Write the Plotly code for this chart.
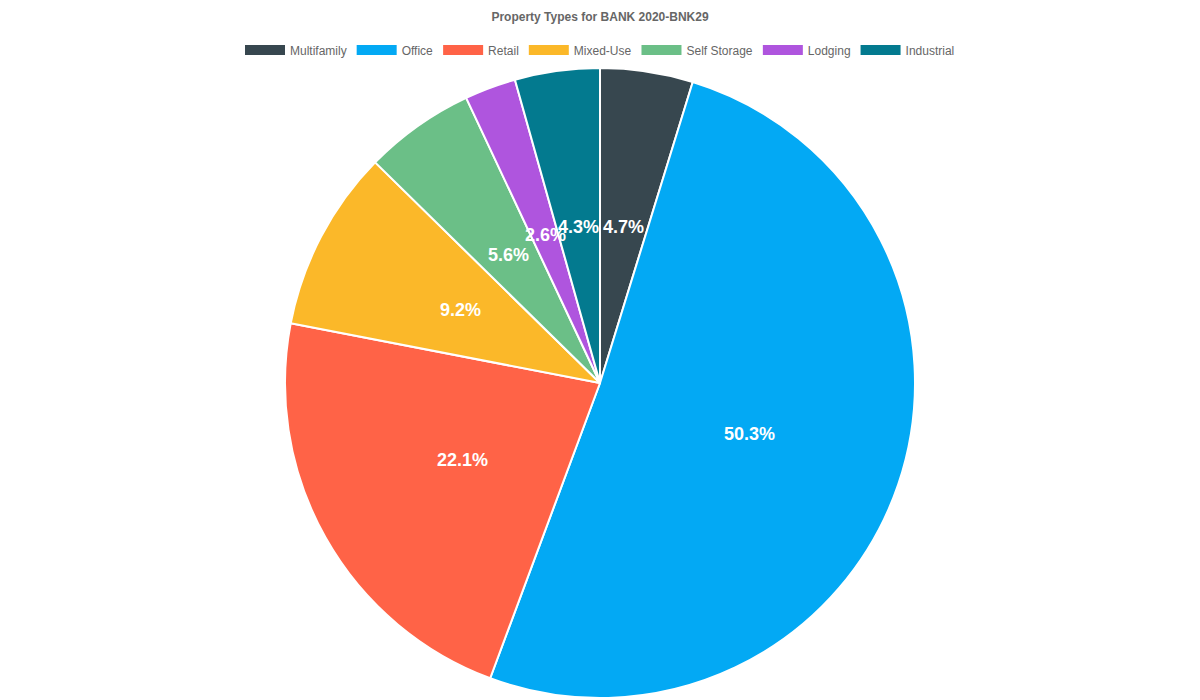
import math
import plotly.graph_objects as go

categories = ["Multifamily", "Office", "Retail", "Mixed-Use", "Self Storage", "Lodging", "Industrial"]
values = [4.7, 50.3, 22.1, 9.2, 5.6, 2.6, 4.3]
colors = ["#37474F", "#03A9F4", "#FF6347", "#FBB829", "#6BBF87", "#AF55DE", "#037A8F"]
title_text = "Property Types for BANK 2020-BNK29"

W, H = 1200, 700
M_T, M_B = 68, 2
plot_h = H - M_T - M_B
radius = plot_h / 2
cx, cy = W / 2, M_T + radius

fig = go.Figure()
fig.add_trace(go.Pie(
    labels=categories, values=values, sort=False, direction="clockwise", rotation=0,
    marker=dict(colors=colors, line=dict(color="white", width=2)),
    textinfo="none", hoverinfo="label+value", showlegend=False,
    domain=dict(x=[0, 1], y=[0, 1]),
))

# legend entries (wide colour boxes)
for name, col in zip(categories, colors):
    fig.add_trace(go.Scatter(x=[None], y=[None], mode="lines", name=name,
                             line=dict(color=col, width=10), showlegend=True))

# percentage labels at half radius, mid-angle of each slice
total = sum(values)
annotations = []
cum = 0.0
for v in values:
    mid = (cum + v / 2) / total * 2 * math.pi
    cum += v
    px = cx + 0.5 * radius * math.sin(mid)
    py = cy - 0.5 * radius * math.cos(mid)
    annotations.append(dict(
        x=px / W, y=(H - M_B - py) / plot_h, xref="paper", yref="paper",
        text=f"{v:.1f}%", showarrow=False,
        font=dict(family="Liberation Sans, Arial, sans-serif", size=18, color="white", weight="bold"),
        xanchor="center", yanchor="middle",
    ))

fig.update_layout(
    width=W, height=H,
    margin=dict(l=0, r=0, t=M_T, b=M_B),
    paper_bgcolor="white", plot_bgcolor="white",
    font=dict(family="Liberation Sans, Arial, sans-serif", size=12, color="#666666"),
    title=dict(text="<b>" + title_text + "</b>", x=0.5, xanchor="center",
               y=1 - 17 / H, yanchor="middle", yref="container",
               font=dict(size=12, color="#666666")),
    legend=dict(orientation="h", x=0.5, xanchor="center", y=1 - 50 / H, yanchor="middle",
                yref="container", font=dict(size=12, color="#666666"),
                itemwidth=40, tracegroupgap=0, bgcolor="rgba(0,0,0,0)"),
    xaxis=dict(visible=False), yaxis=dict(visible=False),
    annotations=annotations,
)

fig.write_html("out.html", config={"displayModeBar": False},
               post_script="document.body.style.margin='0';")
